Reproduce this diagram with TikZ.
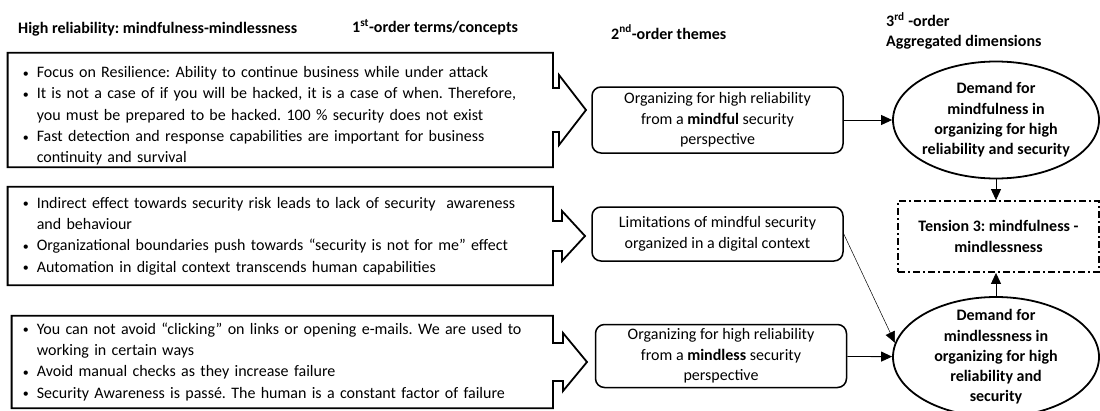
\documentclass[tikz,border=0pt]{standalone}
\usepackage{fontspec}
\setmainfont{Carlito}
\frenchspacing
\usetikzlibrary{positioning, calc, shapes.geometric, arrows.meta}

% box outline with an arrow on its right side: node, shaft half height, head half height, shaft length, tip length
\newcommand{\calloutline}[5]{%
  \draw[line width=1.8pt, line join=miter]
    (#1.north west) -- (#1.north east) -- ($(#1.east)+(0pt,#2)$)
    -- ($(#1.east)+(#4,#2)$) -- ($(#1.east)+(#4,#3)$) -- ($(#1.east)+(#5,0pt)$)
    -- ($(#1.east)+(#4,-#3)$) -- ($(#1.east)+(#4,-#2)$) -- ($(#1.east)+(0pt,-#2)$)
    -- (#1.south east) -- (#1.south west) -- cycle;}
\newcommand{\blist}[1]{\begin{tabular}{@{}l@{\hspace{8pt}}l@{}}#1\end{tabular}}
\newcommand{\bul}{\raisebox{0.5pt}{\fontsize{12pt}{12pt}\selectfont\textbullet}}

\begin{document}
\begin{tikzpicture}[
            x=1pt, y=-1pt,
            every node/.style={font=\fontsize{16pt}{20.5pt}\selectfont, inner sep=0pt},
            head/.style={anchor=west, align=left, font=\fontsize{16pt}{20pt}\selectfont\bfseries},
            quotebox/.style={anchor=east, text width=515pt, inner xsep=15pt, align=left, font=\fontsize{16pt}{21.3pt}\selectfont},
            theme/.style={draw, line width=1.5pt, rounded corners=9pt, minimum width=251pt, align=center},
            dim/.style={draw, ellipse, line width=1.8pt, inner sep=-14pt, minimum width=206pt, align=center, font=\fontsize{16pt}{20.3pt}\selectfont\bfseries},
            tensionbox/.style={draw, line width=1.8pt, dash pattern=on 7pt off 3pt on 2pt off 3pt, minimum width=201pt, minimum height=71pt, align=center, font=\fontsize{16pt}{21pt}\selectfont\bfseries},
            link/.style={-{Triangle[length=11pt,width=10pt]}, line width=0.9pt},
            thinlink/.style={link, line width=0.5pt}
        ]
            \useasboundingbox (0,0) rectangle (1100,410);

            % column headers
            \node[head] (title) at (18,29) {High reliability: mindfulness-mindlessness};
            \node[head] (firsthead) at (352,27) {1\textsuperscript{st}-order terms/concepts};
            \node[head] (secondhead) at (611,32) {2\textsuperscript{nd}-order themes};
            \node[head] (thirdhead) at (886,31) {3\textsuperscript{rd} -order\\Aggregated dimensions};

            % 1st-order terms
            \node[quotebox, minimum height=114pt] (resil) at (553,110) {\blist{\noalign{\vskip 6pt}%
                \bul & Focus on Resilience: Ability to continue business while under attack\\
                \bul & It is not a case of if you will be hacked, it is a case of when. Therefore,\\
                & you must be prepared to be hacked. 100 \% security does not exist\\
                \bul & Fast detection and response capabilities are important for business\\
                & continuity and survival\\\noalign{\vskip -6pt}}};
            \node[quotebox, minimum height=98pt] (aware) at (553,236) {\blist{%
                \bul & Indirect effect towards security risk leads to lack of security\ \ awareness\\
                & and behaviour\\
                \bul & Organizational boundaries push towards “security is not for me” effect\\
                \bul & Automation in digital context transcends human capabilities}};
            \node[quotebox, minimum height=92pt, text width=519pt, inner xsep=11pt] (click) at (553,362) {\blist{%
                \bul & You can not avoid “clicking” on links or opening e-mails. We are used to\\
                & working in certain ways\\
                \bul & Avoid manual checks as they increase failure\\
                \bul & Security Awareness is passé. The human is a constant factor of failure}};
            \calloutline{resil}{22pt}{35pt}{6pt}{33pt}
            \calloutline{aware}{15pt}{25pt}{9pt}{32pt}
            \calloutline{click}{19pt}{29pt}{10pt}{34pt}

            % 2nd-order themes
            \node[theme, minimum height=66pt] (mindful) at (717.5,120) {Organizing for high reliability\\from a \textbf{mindful} security\\perspective};
            \node[theme, minimum height=54pt] (limits) at (717.5,234) {Limitations of mindful security\\organized in a digital context};
            \node[theme, minimum height=63pt] (mindless) at (721,356) {Organizing for high reliability\\from a \textbf{mindless} security\\perspective};

            % aggregated dimensions
            \node[dim, minimum height=117pt] (mfdemand) at (996,120) {Demand for\\mindfulness in\\organizing for high\\reliability and security};
            \node[tensionbox] (tension) at (998.5,236.5) {Tension 3: mindfulness -\\mindlessness};
            \node[dim, minimum height=120pt] (mldemand) at (996,357) {Demand for\\mindlessness in\\organizing for high\\reliability and\\security};

            % links
            \draw[link] (mindful) -- (mfdemand);
            \draw[link] (mfdemand.south) -- (mfdemand.south |- tension.north);
            \draw[link] (mldemand.north) -- (mldemand.north |- tension.south);
            \draw[link] (mindless) -- (mldemand);
            \draw[thinlink] (limits.east) -- (mldemand.172);
        \end{tikzpicture}
\end{document}
